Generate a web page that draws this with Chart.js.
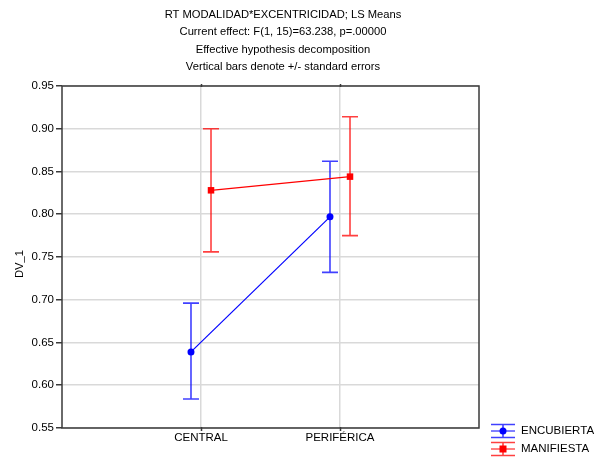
<!DOCTYPE html>
<html>
<head>
<meta charset="utf-8">
<script src="https://cdn.jsdelivr.net/npm/chart.js@4.4.1/dist/chart.umd.min.js"></script>
<style>
  html, body { margin: 0; padding: 0; background: #ffffff; }
  #wrap { width: 608px; height: 458px; }
</style>
</head>
<body>
<div id="wrap"><canvas id="chart" width="608" height="458"></canvas></div>
<script>
// Categories on the x axis
const categories = ['CENTRAL', 'PERIFÉRICA'];

// LS means with lower / upper ends of the standard-error bars
const encubiertaMean = [0.639, 0.797];
const encubiertaLow  = [0.584, 0.732];
const encubiertaHigh = [0.696, 0.862];

const manifiestaMean = [0.828, 0.844];
const manifiestaLow  = [0.756, 0.775];
const manifiestaHigh = [0.900, 0.914];

// Y axis range and step
const yMin = 0.55;
const yMax = 0.95;
const yStep = 0.05;

const titleLines = [
  'RT MODALIDAD*EXCENTRICIDAD; LS Means',
  'Current effect: F(1, 15)=63.238, p=.00000',
  'Effective hypothesis decomposition',
  'Vertical bars denote +/- standard errors'
];
const yTitle = 'DV_1';

const FONT = '"Liberation Sans", Arial, Helvetica, sans-serif';
const DODGE = 0.072; // horizontal shift so the two series don't overlap

function points(means, shift) {
  return means.map((m, i) => ({ x: i + 1 + shift, y: m }));
}

const series = [
  { label: 'ENCUBIERTA', mean: encubiertaMean, low: encubiertaLow, high: encubiertaHigh,
    color: '#0000ff', bar: 'rgba(0,0,255,0.75)', shape: 'circle', radius: 3.5, shift: -DODGE },
  { label: 'MANIFIESTA', mean: manifiestaMean, low: manifiestaLow, high: manifiestaHigh,
    color: '#ff0000', bar: 'rgba(255,0,0,0.75)', shape: 'rect', radius: 4.6, shift: DODGE }
];

// Error bars, frame, titles and legend
const decorations = {
  id: 'decorations',
  beforeDatasetsDraw(chart) {
    const { ctx, scales: { x, y } } = chart;
    ctx.save();
    series.forEach(s => {
      ctx.strokeStyle = s.bar;
      ctx.lineWidth = 1.6;
      s.mean.forEach((m, i) => {
        const px = x.getPixelForValue(i + 1 + s.shift);
        const pl = y.getPixelForValue(s.low[i]);
        const ph = y.getPixelForValue(s.high[i]);
        ctx.beginPath();
        ctx.moveTo(px, pl); ctx.lineTo(px, ph);
        ctx.moveTo(px - 8, pl); ctx.lineTo(px + 8, pl);
        ctx.moveTo(px - 8, ph); ctx.lineTo(px + 8, ph);
        ctx.stroke();
      });
    });
    ctx.restore();
  },
  afterDraw(chart) {
    const { ctx, chartArea: a, scales: { x } } = chart;
    ctx.save();
    // frame
    ctx.strokeStyle = '#3a3a3a';
    ctx.lineWidth = 1.5;
    ctx.strokeRect(a.left, a.top, a.right - a.left, a.bottom - a.top);
    // category ticks on the top and bottom edges
    ctx.lineWidth = 1.5;
    categories.forEach((c, i) => {
      const px = Math.round(x.getPixelForValue(i + 1)) + 0.5;
      ctx.beginPath();
      ctx.moveTo(px, a.top - 2); ctx.lineTo(px, a.top + 1);
      ctx.moveTo(px, a.bottom - 1); ctx.lineTo(px, a.bottom + 3);
      ctx.stroke();
    });
    // titles
    ctx.fillStyle = '#000000';
    ctx.font = '11.2px ' + FONT;
    ctx.textAlign = 'center';
    ctx.textBaseline = 'middle';
    const tx = 283;
    titleLines.forEach((t, i) => ctx.fillText(t, tx, 15 + i * 17.3));
    // y title
    ctx.save();
    ctx.translate(20, 264);
    ctx.rotate(-Math.PI / 2);
    ctx.fillText(yTitle, 0, 0);
    ctx.restore();
    // legend
    const lx = 491, lw = 24;
    series.forEach((s, i) => {
      const cy = 431 + i * 18;
      ctx.strokeStyle = s.bar;
      ctx.lineWidth = 1.6;
      ctx.beginPath();
      ctx.moveTo(lx, cy - 6.5); ctx.lineTo(lx + lw, cy - 6.5);
      ctx.moveTo(lx, cy + 6.5); ctx.lineTo(lx + lw, cy + 6.5);
      ctx.moveTo(lx + lw / 2, cy - 6.5); ctx.lineTo(lx + lw / 2, cy + 6.5);
      ctx.stroke();
      ctx.strokeStyle = s.color;
      ctx.lineWidth = 1;
      ctx.beginPath();
      ctx.moveTo(lx, cy); ctx.lineTo(lx + lw, cy);
      ctx.stroke();
      ctx.fillStyle = s.color;
      if (s.shape === 'circle') {
        ctx.beginPath(); ctx.arc(lx + lw / 2, cy, 3.5, 0, Math.PI * 2); ctx.fill();
      } else {
        ctx.fillRect(lx + lw / 2 - 3.5, cy - 3.5, 7, 7);
      }
      ctx.fillStyle = '#000000';
      ctx.textAlign = 'left';
      ctx.font = '11.5px ' + FONT;
      ctx.fillText(s.label, 521, cy);
    });
    ctx.restore();
  }
};

new Chart(document.getElementById('chart'), {
  type: 'scatter',
  data: {
    datasets: series.map(s => ({
      label: s.label,
      data: points(s.mean, s.shift),
      showLine: true,
      borderColor: s.color,
      backgroundColor: s.color,
      borderWidth: 1.2,
      pointStyle: s.shape,
      pointRadius: s.radius,
      pointHoverRadius: s.radius,
      pointBorderWidth: 0
    }))
  },
  options: {
    responsive: false,
    animation: false,
    events: [],
    layout: { padding: { left: 0, right: 129, top: 86, bottom: 0 } },
    plugins: { legend: { display: false }, tooltip: { enabled: false }, title: { display: false } },
    scales: {
      x: {
        type: 'linear',
        min: 0, max: 3,
        afterBuildTicks(scale) { scale.ticks = [1, 2].map(v => ({ value: v })); },
        afterFit(scale) { scale.height = 30; },
        ticks: {
          callback: v => categories[v - 1] || '',
          color: '#000000',
          font: { family: FONT, size: 11.5 },
          padding: 3,
          maxRotation: 0
        },
        grid: { color: '#d9d9d9', lineWidth: 1.5, tickLength: 0, drawTicks: false },
        border: { display: false }
      },
      y: {
        min: yMin, max: yMax,
        afterFit(scale) { scale.width = 62; },
        ticks: {
          stepSize: yStep,
          callback: v => v.toFixed(2),
          color: '#000000',
          font: { family: FONT, size: 11.5 },
          padding: 2
        },
        grid: { color: '#d9d9d9', lineWidth: 1.5, tickLength: 6, tickColor: '#3a3a3a', tickWidth: 1.5 },
        border: { display: false }
      }
    }
  },
  plugins: [decorations]
});
</script>
</body>
</html>
